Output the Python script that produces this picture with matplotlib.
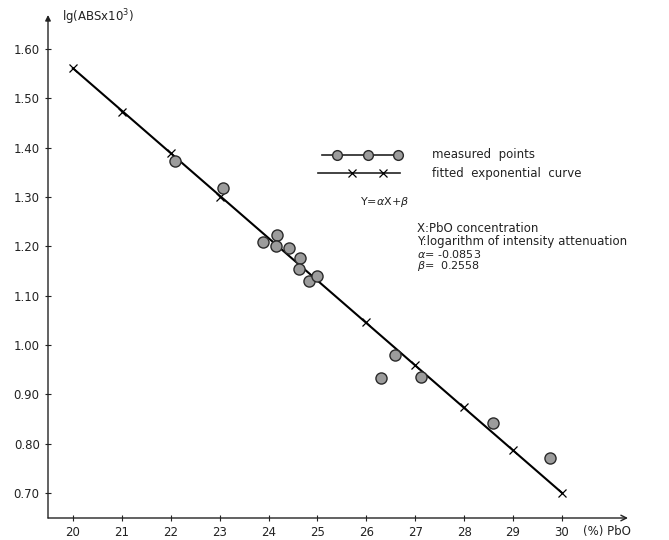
import matplotlib.pyplot as plt
import numpy as np

# ---------- data ----------
# measured points (PbO %, lg(ABS x 10^3))
meas_x = [22.09, 23.07, 23.89, 24.17, 24.15, 24.42, 24.64, 24.62, 24.83, 24.99,
          26.58, 26.30, 27.12, 28.59, 29.75]
meas_y = [1.373, 1.318, 1.209, 1.223, 1.200, 1.196, 1.176, 1.154, 1.129, 1.140,
          0.979, 0.933, 0.935, 0.841, 0.770]

# fitted curve, crosses where they are drawn
fit_x = [20, 21, 22, 23, 26, 27, 28, 29, 30]
fit_y = [1.561, 1.472, 1.389, 1.300, 1.046, 0.959, 0.874, 0.787, 0.700]

x_ticks = [20, 21, 22, 23, 24, 25, 26, 27, 28, 29, 30]
y_ticks = [0.70, 0.80, 0.90, 1.00, 1.10, 1.20, 1.30, 1.40, 1.50, 1.60]

ink = '#222222'
plt.rcParams['font.family'] = ['DejaVu Sans']

fig = plt.figure(figsize=(6.69, 5.40), dpi=100)
ax = fig.add_axes([48/669, 22/540, 580/669, 503/540])
ax.set_xlim(19.49, 31.35)
ax.set_ylim(0.649, 1.669)

for s in ax.spines.values():
    s.set_visible(False)

# axes drawn as arrows
ax.annotate('', xy=(1, 0), xytext=(0, 0), xycoords='axes fraction',
            arrowprops=dict(arrowstyle='->', color=ink, lw=1.0, shrinkA=0, shrinkB=0))
ax.annotate('', xy=(0, 1), xytext=(0, 0), xycoords='axes fraction',
            arrowprops=dict(arrowstyle='-|>', color=ink, lw=1.0, shrinkA=0, shrinkB=0,
                            mutation_scale=8))

ax.set_xticks(x_ticks)
ax.set_xticklabels([str(t) for t in x_ticks])
ax.set_yticks(y_ticks)
ax.set_yticklabels(['%.2f' % t for t in y_ticks])
ax.tick_params(axis='both', direction='inout', length=4, width=0.8, color=ink,
               labelcolor=ink, labelsize=8.5, pad=4)

# fitted line + crosses
ax.plot([fit_x[0], fit_x[-1]], [fit_y[0], fit_y[-1]], color='black', lw=1.5, zorder=2)
ax.plot(fit_x, fit_y, 'x', color='black', ms=6, mew=0.9, zorder=3)

# measured points
ax.plot(meas_x, meas_y, 'o', ms=8, mfc='#9c9c9c', mec='#2a2a2a', mew=1.0, zorder=4)

# axis labels
fig.text(62/669, 1 - 17/540, r'lg(ABSx10$^3$)', fontsize=8.5, color=ink, va='center')
fig.text(583/669, 1 - 532/540, '(%) PbO', fontsize=8.5, color=ink, va='center')

# legend drawn by hand
ly1 = 1 - 155/540
ly2 = 1 - 173/540
fig.add_artist(plt.Line2D([322/669, 398/669], [ly1, ly1], color=ink, lw=1.2))
fig.add_artist(plt.Line2D([337/669, 368/669, 398/669], [ly1] * 3, ls='none', marker='o',
                          ms=7, mfc='#9c9c9c', mec='#2a2a2a', mew=1.0))
fig.add_artist(plt.Line2D([318/669, 400/669], [ly2, ly2], color=ink, lw=1.2))
fig.add_artist(plt.Line2D([352/669, 383/669], [ly2] * 2, ls='none', marker='x',
                          ms=6, mec='black', mew=0.9))
fig.text(432/669, ly1, 'measured  points', fontsize=8.5, color=ink, va='center')
fig.text(432/669, ly2, 'fitted  exponential  curve', fontsize=8.5, color=ink, va='center')

fig.text(360/669, 1 - 202/540, r'Y=$\alpha$X+$\beta$', fontsize=8, color=ink, va='center')
fig.text(417/669, 1 - 228/540, 'X:PbO concentration', fontsize=8.5, color=ink, va='center')
fig.text(417/669, 1 - 241/540, 'Y:logarithm of intensity attenuation', fontsize=8.5,
         color=ink, va='center')
fig.text(417/669, 1 - 254/540, r'$\alpha$= -0.0853', fontsize=8, color=ink, va='center')
fig.text(417/669, 1 - 266/540, r'$\beta$=  0.2558', fontsize=8, color=ink, va='center')

fig.savefig('out.png', dpi=100)
